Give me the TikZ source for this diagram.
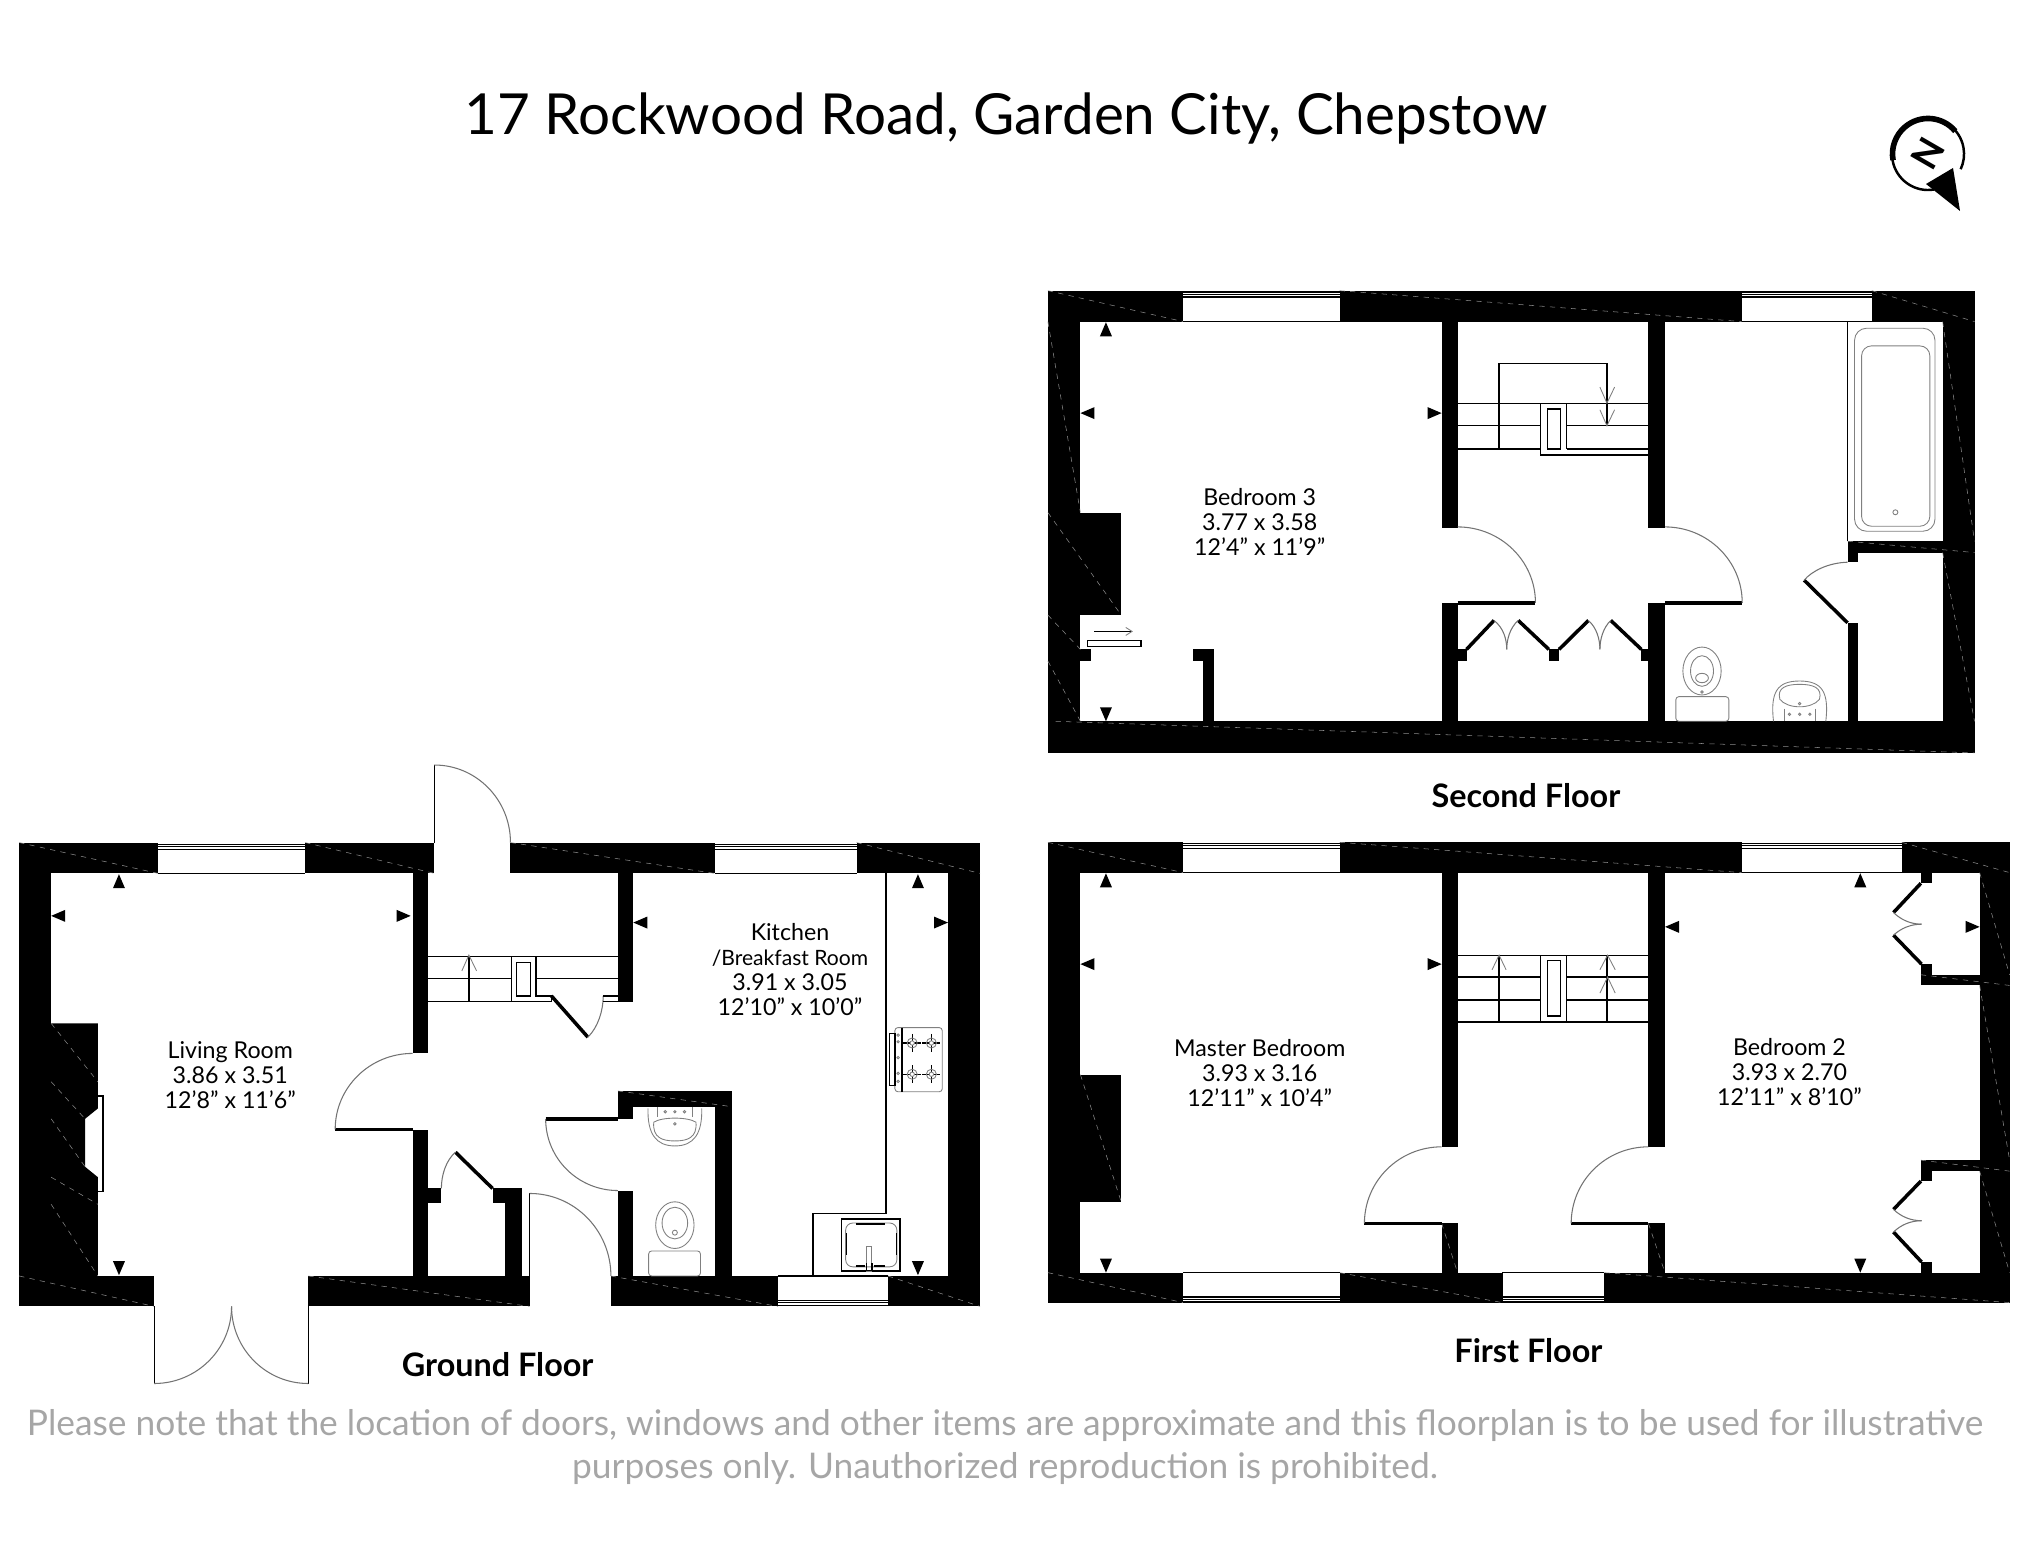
\documentclass[tikz,border=0pt]{standalone}
\usepackage{fontspec}
\setmainfont{Lato}
\usepackage{tikz}

\begin{document}
\begin{tikzpicture}[x=0.01cm,y=-0.01cm]
        \tikzstyle{wall}=[fill=black, draw=none]
        \tikzstyle{hatch}=[draw=black!45, line width=0.15pt, dash pattern=on 1.5pt off 1.5pt]
        \tikzstyle{line}=[draw=black, line width=0.35pt]
        \tikzstyle{leaf}=[draw=black, line width=1pt]
        \tikzstyle{swing}=[draw=black!55, line width=0.3pt]
        \tikzstyle{fixture}=[draw=black!50, line width=0.25pt]
        \tikzstyle{roomlabel}=[align=center, inner sep=0pt, font=\fontsize{6.6}{7.1}\selectfont]
        \tikzstyle{floorlabel}=[inner sep=0pt, font=\fontsize{9.2}{11}\selectfont\bfseries]
        \tikzstyle{notice}=[align=center, inner sep=0pt, text=black!35, font=\fontsize{10.05}{12.1}\selectfont]

        \newcommand{\tipup}[2]{\fill (#1,#2) -- ++(-0.06cm,-0.14cm) -- ++(0.12cm,0) -- cycle;}
        \newcommand{\tipdown}[2]{\fill (#1,#2) -- ++(-0.06cm,0.14cm) -- ++(0.12cm,0) -- cycle;}
        \newcommand{\tipleft}[2]{\fill (#1,#2) -- ++(0.14cm,0.06cm) -- ++(0,-0.12cm) -- cycle;}
        \newcommand{\tipright}[2]{\fill (#1,#2) -- ++(-0.14cm,0.06cm) -- ++(0,-0.12cm) -- cycle;}

        \useasboundingbox (0,0) rectangle (2025,1564);

        \node[inner sep=0pt, font=\fontsize{16.1}{20}\selectfont] (title) at (1006,119) {17 Rockwood Road, Garden City, Chepstow};
        \node[notice] (note) at (1005,1447) {Please note that the location of doors, windows and other items are approximate and this floorplan is to be used for illustrative\\purposes only. Unauthorized reproduction is prohibited.};

        % compass
        \draw[line width=0.7pt] (1928,154) ++(-80:0.36cm) arc[start angle=-80, end angle=-385, radius=0.36cm];
        \draw[line width=1.6pt] (1928,154) ++(40:0.355cm) arc[start angle=40, end angle=190, radius=0.355cm];
        \fill (1926,184) -- (1953,168) -- (1960,211) -- cycle;
        \node[inner sep=0pt, rotate=-120, font=\fontsize{10.5}{10.5}\selectfont\bfseries] (north) at (1928,153) {N};

        % ground floor
        \begin{scope}[shift={(0,750)}, x=0.00639cm, y=-0.004167cm]
        \fill[wall] (30,222) rectangle (247,296);
        \fill[wall] (477,222) rectangle (679,296);
        \fill[wall] (798,222) rectangle (1117,296);
        \fill[wall] (1339,222) rectangle (1532,296);
        \fill[wall] (30,1262) rectangle (241,1335);
        \fill[wall] (482,1262) rectangle (828,1335);
        \fill[wall] (955,1262) rectangle (1216,1335);
        \fill[wall] (1388,1262) rectangle (1532,1335);
        \fill[wall] (30,280) rectangle (80,1280);
        \fill[wall] (1482,280) rectangle (1532,1280);
        \fill[wall] (645,280) rectangle (669,728);
        \fill[wall] (645,912) rectangle (669,1280);
        \fill[wall] (645,1052) rectangle (690,1088);
        \fill[wall] (770,1052) rectangle (816,1088);
        \fill[wall] (790,1080) rectangle (816,1280);
        \fill[wall] (966,280) rectangle (990,604);
        \fill[wall] (966,818) rectangle (1145,856);
        \fill[wall] (966,850) rectangle (990,885);
        \fill[wall] (1117,850) rectangle (1145,1280);
        \fill[wall] (966,1057) rectangle (990,1280);
        \fill[wall] (70,656) -- (153,656) -- (153,860) -- (133,885) -- (133,1000) -- (153,1025) -- (153,1280) -- (70,1280) -- cycle;

        \draw[hatch] (30,222) -- (247,296);
        \draw[hatch] (477,222) -- (679,296);
        \draw[hatch] (798,222) -- (1117,296);
        \draw[hatch] (1339,222) -- (1532,296);
        \draw[hatch] (30,1262) -- (241,1335);
        \draw[hatch] (482,1262) -- (828,1335);
        \draw[hatch] (955,1262) -- (1216,1335);
        \draw[hatch] (1388,1262) -- (1532,1335);
        \draw[hatch] (80,656) -- (153,796);
        \draw[hatch] (80,796) -- (133,885);
        \draw[hatch] (80,885) -- (133,1000);
        \draw[hatch] (80,1025) -- (153,1090);
        \draw[hatch] (80,1090) -- (153,1262);
        \draw[hatch] (966,818) -- (1145,856);

        % windows
        \foreach \yy in {226,232,238} {
                \draw[line] (247,\yy) -- (477,\yy);
                \draw[line] (1117,\yy) -- (1339,\yy);
        }
        \draw[line] (247,296) -- (477,296);
        \draw[line] (1117,296) -- (1339,296);
        \foreach \yy in {1320,1326,1333} {
                \draw[line] (1216,\yy) -- (1388,\yy);
        }
        \draw[line] (1216,1262) -- (1388,1262);

        % doors
        \draw[line] (679,36) -- (679,222);
        \draw[swing] (679,36) arc[start angle=270, end angle=360, x radius=119, y radius=186];
        \draw[leaf] (524,910) -- (645,910);
        \draw[swing] (645,728) arc[start angle=270, end angle=180, x radius=121, y radius=182];
        \draw[leaf] (862,590) -- (919,689);
        \draw[swing] (919,689) .. controls (935,665) and (943,625) .. (943,590);
        \draw[leaf] (712,965) -- (770,1052);
        \draw[swing] (712,965) .. controls (697,985) and (690,1020) .. (690,1052);
        \draw[leaf] (853,885) -- (966,885);
        \draw[swing] (853,885) arc[start angle=180, end angle=90, x radius=113, y radius=172];
        \draw[line] (828,1064) -- (828,1262);
        \draw[swing] (828,1064) arc[start angle=270, end angle=360, x radius=127, y radius=198];
        \draw[line] (241,1335) -- (241,1520);
        \draw[line] (482,1335) -- (482,1520);
        \draw[swing] (241,1520) arc[start angle=90, end angle=0, x radius=121, y radius=185];
        \draw[swing] (482,1520) arc[start angle=90, end angle=180, x radius=120, y radius=185];

        % stairs
        \draw[line] (669,496) -- (966,496);
        \draw[line] (669,548) -- (800,548);
        \draw[line] (838,548) -- (966,548);
        \draw[line] (669,604) -- (862,604) -- (862,590) -- (838,590) -- (838,496);
        \draw[line] (733,496) -- (733,604);
        \draw[line] (800,496) -- (800,604);
        \draw[line] (808,510) rectangle (829,590);
        \draw[line] (943,590) -- (966,590);
        \draw[line] (943,604) -- (966,604);
        \draw[fixture] (722,530) -- (733,492) -- (745,530);

        % kitchen and cloakroom fittings
        \draw[line] (1385,296) -- (1385,1112) -- (1271,1112) -- (1271,1262);
        \draw[fixture, rounded corners=0.03cm] (1399,666) rectangle (1473,820);
        \draw[line] (1391,680) rectangle (1399,805);
        \draw[line] (1410,666) -- (1410,820);
        \foreach \yy in {684,700,738,776,795} {
                \draw[fixture] (1404,\yy) circle (0.012cm);
        }
        \foreach \xx in {1426,1456} {
                \foreach \yy in {703,778} {
                        \draw[line] (\xx-14,\yy) -- (\xx+14,\yy);
                        \draw[line] (\xx,\yy-22) -- (\xx,\yy+22);
                        \draw[fixture, fill=white] (\xx,\yy) circle (0.022cm);
                        \draw[fixture] (\xx,\yy) circle (0.05cm);
                }
        }
        \draw[line] (1316,1125) rectangle (1407,1250);
        \draw[fixture, rounded corners=0.07cm] (1322,1135) rectangle (1402,1240);
        \draw[line] (1338,1137) -- (1384,1137);
        \draw[line] (1338,1238) -- (1352,1238);
        \draw[line] (1366,1238) -- (1384,1238);
        \draw[line] (1323,1160) -- (1323,1212);
        \draw[line] (1401,1160) -- (1401,1212);
        \draw[fixture] (1355,1190) rectangle (1363,1250);
        \draw[line] (1355,1232) -- (1355,1250);
        \draw[line] (1363,1232) -- (1363,1250);
        \draw[fixture] (1013,860) .. controls (1012,920) and (1025,950) .. (1055,950) .. controls (1085,950) and (1098,920) .. (1097,860);
        \draw[fixture] (1022,893) .. controls (1020,930) and (1035,938) .. (1055,938) .. controls (1075,938) and (1090,930) .. (1088,893) .. controls (1075,880) and (1035,880) .. (1022,893) -- cycle;
        \draw[fixture] (1028,856) -- (1028,880);
        \draw[fixture] (1082,856) -- (1082,880);
        \foreach \xx in {1040,1055,1070} {
                \draw[fixture] (\xx,868) circle (0.012cm);
        }
        \draw[fixture] (1055,897) circle (0.012cm);
        \draw[fixture] (1055,1140) ellipse [x radius=30, y radius=56];
        \draw[fixture] (1055,1135) ellipse [x radius=20, y radius=38];
        \draw[fixture] (1055,1158) circle (0.025cm);
        \draw[fixture, rounded corners=0.03cm] (1014,1202) rectangle (1095,1262);

        % sizes
        \tipup{186}{298}
        \tipleft{80}{398}
        \tipright{642}{398}
        \tipdown{186}{1260}
        \tipleft{990}{414}
        \tipup{1435}{298}
        \tipright{1482}{414}
        \tipdown{1435}{1260}

        % fireplace
        \draw[line] (153,830) -- (161,830) -- (161,1060) -- (153,1060);

        \node[roomlabel] (living) at (360,780) {Living Room\\3.86 x 3.51\\12'8" x 11'6"};
        \node[roomlabel] (kitchen) at (1235,526) {Kitchen\\{\fontsize{6}{7.1}\selectfont /Breakfast Room}\\3.91 x 3.05\\12'10" x 10'0"};
        \node[floorlabel] (ground) at (778,1474) {Ground Floor};
        \end{scope}

        % second floor
        \begin{scope}[shift={(1030,270)}, x=0.00638cm, y=-0.003333cm]
        \fill[wall] (28,62) rectangle (240,155);
        \fill[wall] (485,62) rectangle (1115,155);
        \fill[wall] (1319,62) rectangle (1480,155);
        \fill[wall] (28,1356) rectangle (1480,1451);
        \fill[wall] (28,140) rectangle (79,1370);
        \fill[wall] (1430,140) rectangle (1480,1370);
        \fill[wall] (645,140) rectangle (670,775);
        \fill[wall] (645,1002) rectangle (670,1370);
        \fill[wall] (969,140) rectangle (995,775);
        \fill[wall] (969,1002) rectangle (995,1370);
        \fill[wall] (70,729) rectangle (143,1037);
        \fill[wall] (70,1140) rectangle (96,1175);
        \fill[wall] (255,1140) rectangle (288,1175);
        \fill[wall] (271,1170) rectangle (288,1370);
        \fill[wall] (660,1140) rectangle (684,1175);
        \fill[wall] (813,1140) rectangle (829,1175);
        \fill[wall] (958,1140) rectangle (980,1175);
        \fill[wall] (1281,815) rectangle (1480,849);
        \fill[wall] (1281,845) rectangle (1297,878);
        \fill[wall] (1281,1062) rectangle (1297,1370);

        \draw[hatch] (28,62) -- (240,155);
        \draw[hatch] (485,62) -- (1115,155);
        \draw[hatch] (1319,62) -- (1480,155);
        \draw[hatch] (40,1356) -- (1480,1451);
        \draw[hatch] (28,155) -- (79,729);
        \draw[hatch] (28,729) -- (143,1037);
        \draw[hatch] (28,1037) -- (79,1140);
        \draw[hatch] (28,1175) -- (79,1356);
        \draw[hatch] (1281,815) -- (1480,849);
        \draw[hatch] (1430,155) -- (1480,815);
        \draw[hatch] (1430,849) -- (1480,1356);

        % windows
        \foreach \yy in {66,73,81} {
                \draw[line] (240,\yy) -- (485,\yy);
                \draw[line] (1115,\yy) -- (1319,\yy);
        }
        \draw[line] (240,155) -- (485,155);
        \draw[line] (1115,155) -- (1319,155);

        % doors
        \draw[leaf] (670,1000) -- (792,1000);
        \draw[swing] (670,772) arc[start angle=270, end angle=360, x radius=122, y radius=228];
        \draw[leaf] (995,1000) -- (1116,1000);
        \draw[swing] (995,772) arc[start angle=270, end angle=360, x radius=121, y radius=228];
        \draw[leaf] (1213,932) -- (1281,1060);
        \draw[swing] (1281,878) .. controls (1250,880) and (1225,905) .. (1213,932);
        \draw[leaf] (684,1140) -- (727,1053);
        \draw[leaf] (813,1140) -- (765,1053);
        \draw[leaf] (829,1140) -- (875,1053);
        \draw[leaf] (958,1140) -- (910,1053);
        \draw[swing] (727,1053) .. controls (742,1075) and (747,1110) .. (747,1140);
        \draw[swing] (765,1053) .. controls (752,1075) and (747,1110) .. (747,1140);
        \draw[swing] (875,1053) .. controls (888,1075) and (893,1110) .. (893,1140);
        \draw[swing] (910,1053) .. controls (898,1075) and (893,1110) .. (893,1140);

        % stairs
        \draw[line] (735,538) -- (735,280) -- (904,280) -- (904,468);
        \draw[line] (670,400) -- (969,400);
        \draw[line] (670,468) -- (800,468);
        \draw[line] (841,468) -- (969,468);
        \draw[line] (670,538) -- (800,538);
        \draw[line] (841,538) -- (969,538);
        \draw[line] (800,400) -- (800,556) -- (969,556);
        \draw[line] (841,400) -- (841,538);
        \draw[line] (811,418) rectangle (831,538);
        \draw[fixture] (893,352) -- (904,400) -- (916,352);
        \draw[fixture] (893,420) -- (904,468) -- (916,420);

        % bathroom fittings
        \draw[line] (1281,155) -- (1281,815);
        \draw[fixture, rounded corners=0.12cm] (1292,175) rectangle (1418,785);
        \draw[fixture, rounded corners=0.1cm] (1303,228) rectangle (1410,770);
        \draw[fixture] (1356,728) circle (0.025cm);
        \draw[fixture] (1053,1205) ellipse [x radius=30, y radius=72];
        \draw[fixture] (1053,1205) ellipse [x radius=18, y radius=46];
        \draw[fixture] (1053,1226) ellipse [x radius=10, y radius=14];
        \draw[fixture] (1053,1268) circle (0.012cm);
        \draw[fixture, rounded corners=0.03cm] (1012,1282) rectangle (1095,1356);
        \draw[fixture] (1165,1356) .. controls (1160,1270) and (1170,1235) .. (1206,1235) .. controls (1242,1235) and (1252,1270) .. (1247,1356);
        \draw[fixture] (1175,1290) .. controls (1170,1255) and (1185,1245) .. (1206,1245) .. controls (1227,1245) and (1242,1255) .. (1237,1290) .. controls (1225,1320) and (1187,1320) .. (1175,1290) -- cycle;
        \draw[fixture] (1206,1303) circle (0.012cm);
        \foreach \xx in {1190,1206,1222} {
                \draw[fixture] (\xx,1335) circle (0.012cm);
        }
        \draw[fixture] (1182,1318) -- (1182,1356);
        \draw[fixture] (1230,1318) -- (1230,1356);

        % shelf
        \draw[line] (90,1114) rectangle (174,1132);
        \draw[line] (101,1086) -- (160,1086);
        \draw[fixture] (150,1074) -- (160,1086) -- (150,1098);

        % sizes
        \tipup{119}{157}
        \tipleft{79}{430}
        \tipright{645}{430}
        \tipdown{119}{1356}

        \node[roomlabel] (bedthree) at (360,757) {Bedroom 3\\3.77 x 3.58\\12'4" x 11'9"};
        \node[floorlabel] (second) at (777,1578) {Second Floor};
        \end{scope}

        % first floor
        \begin{scope}[shift={(1030,830)}, x=0.00638cm, y=-0.003333cm]
        \fill[wall] (28,37) rectangle (240,128);
        \fill[wall] (485,37) rectangle (1115,128);
        \fill[wall] (1366,37) rectangle (1535,128);
        \fill[wall] (28,1330) rectangle (240,1420);
        \fill[wall] (485,1330) rectangle (740,1420);
        \fill[wall] (900,1330) rectangle (1535,1420);
        \fill[wall] (28,115) rectangle (79,1345);
        \fill[wall] (1488,115) rectangle (1535,1345);
        \fill[wall] (645,115) rectangle (670,952);
        \fill[wall] (645,1182) rectangle (670,1345);
        \fill[wall] (969,115) rectangle (995,952);
        \fill[wall] (969,1182) rectangle (995,1345);
        \fill[wall] (70,735) rectangle (143,1118);
        \fill[wall] (1396,115) rectangle (1413,160);
        \fill[wall] (1396,403) rectangle (1413,440);
        \fill[wall] (1396,435) rectangle (1535,467);
        \fill[wall] (1396,992) rectangle (1535,1025);
        \fill[wall] (1396,1020) rectangle (1413,1055);
        \fill[wall] (1396,1298) rectangle (1413,1345);

        \draw[hatch] (28,37) -- (240,128);
        \draw[hatch] (485,37) -- (1115,128);
        \draw[hatch] (1366,37) -- (1535,128);
        \draw[hatch] (28,1330) -- (240,1420);
        \draw[hatch] (485,1330) -- (740,1420);
        \draw[hatch] (900,1330) -- (1535,1420);
        \draw[hatch] (79,735) -- (143,1118);
        \draw[hatch] (1396,435) -- (1535,467);
        \draw[hatch] (1396,992) -- (1535,1025);
        \draw[hatch] (1488,128) -- (1535,435);
        \draw[hatch] (1488,467) -- (1535,992);
        \draw[hatch] (1488,1025) -- (1535,1330);
        \draw[hatch] (645,1182) -- (670,1330);
        \draw[hatch] (969,1182) -- (995,1330);

        % windows
        \foreach \yy in {40,47,55} {
                \draw[line] (240,\yy) -- (485,\yy);
                \draw[line] (1115,\yy) -- (1366,\yy);
        }
        \draw[line] (240,128) -- (485,128);
        \draw[line] (1115,128) -- (1366,128);
        \foreach \yy in {1403,1410,1418} {
                \draw[line] (240,\yy) -- (485,\yy);
                \draw[line] (740,\yy) -- (900,\yy);
        }
        \draw[line] (240,1330) -- (485,1330);
        \draw[line] (740,1330) -- (900,1330);
        \draw[line] (740,1330) -- (740,1420);
        \draw[line] (900,1330) -- (900,1420);

        % doors
        \draw[leaf] (524,1182) -- (645,1182);
        \draw[swing] (645,952) arc[start angle=270, end angle=180, x radius=121, y radius=230];
        \draw[leaf] (848,1182) -- (969,1182);
        \draw[swing] (969,952) arc[start angle=270, end angle=180, x radius=121, y radius=230];
        \draw[leaf] (1396,160) -- (1353,248);
        \draw[leaf] (1353,316) -- (1397,403);
        \draw[leaf] (1396,1055) -- (1353,1140);
        \draw[leaf] (1353,1208) -- (1397,1298);
        \draw[swing] (1353,248) .. controls (1365,270) and (1380,283) .. (1397,283);
        \draw[swing] (1353,316) .. controls (1365,295) and (1380,283) .. (1397,283);
        \draw[swing] (1353,1140) .. controls (1365,1162) and (1380,1174) .. (1397,1174);
        \draw[swing] (1353,1208) .. controls (1365,1186) and (1380,1174) .. (1397,1174);

        % stairs
        \draw[line] (670,376) -- (969,376);
        \draw[line] (670,442) -- (800,442);
        \draw[line] (841,442) -- (969,442);
        \draw[line] (670,511) -- (800,511);
        \draw[line] (841,511) -- (969,511);
        \draw[line] (670,577) -- (969,577);
        \foreach \xx in {735,800,841,904} {
                \draw[line] (\xx,376) -- (\xx,577);
        }
        \draw[line] (811,393) rectangle (831,559);
        \draw[fixture] (724,420) -- (735,376) -- (746,420);
        \draw[fixture] (893,420) -- (905,376) -- (917,420);
        \draw[fixture] (893,490) -- (905,442) -- (917,490);

        % sizes
        \tipup{119}{130}
        \tipleft{79}{403}
        \tipright{645}{403}
        \tipdown{119}{1330}
        \tipup{1301}{130}
        \tipleft{995}{291}
        \tipright{1488}{291}
        \tipdown{1301}{1330}

        \node[roomlabel] (master) at (360,730) {Master Bedroom\\3.93 x 3.16\\12'11" x 10'4"};
        \node[roomlabel] (bedtwo) at (1190,727) {Bedroom 2\\3.93 x 2.70\\12'11" x 8'10"};
        \node[floorlabel] (first) at (781,1563) {First Floor};
        \end{scope}
    \end{tikzpicture}
\end{document}
